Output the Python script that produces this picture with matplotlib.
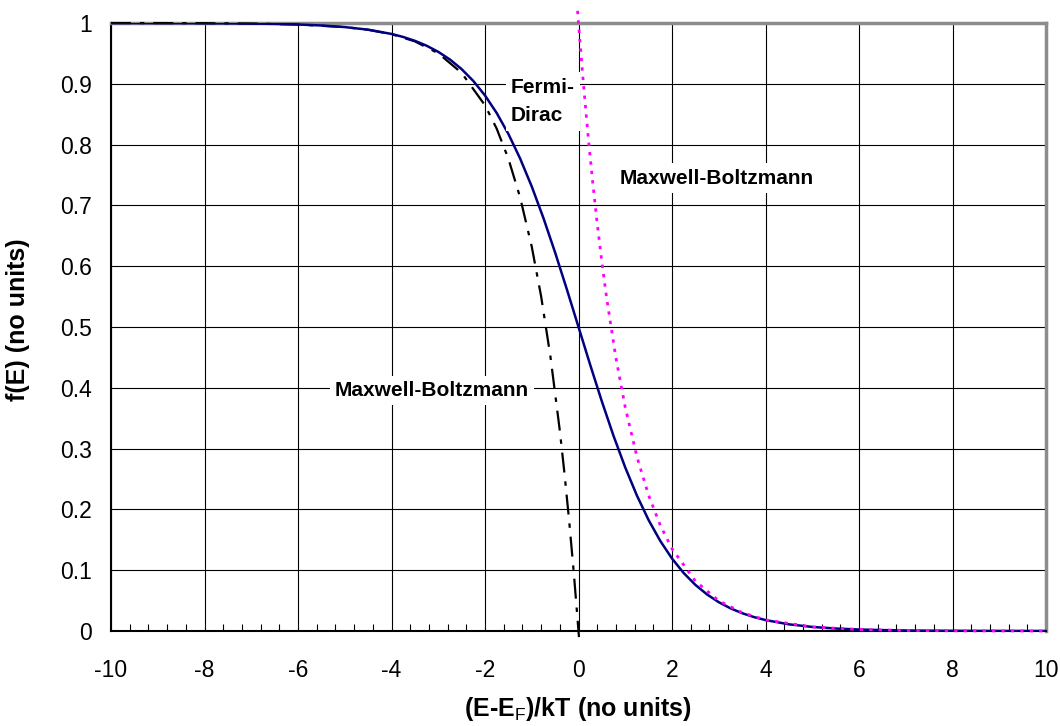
import matplotlib
matplotlib.use("Agg")
import matplotlib.pyplot as plt
from matplotlib.ticker import MultipleLocator

plt.rcParams['font.family'] = ['Liberation Sans', 'DejaVu Sans']
plt.rcParams['axes.unicode_minus'] = False
plt.rcParams['mathtext.fontset'] = 'custom'
plt.rcParams['mathtext.rm'] = 'Liberation Sans'
plt.rcParams['mathtext.bf'] = 'Liberation Sans:bold'
plt.rcParams['mathtext.it'] = 'Liberation Sans:italic'

# Fermi-Dirac
fd_x = [-10, -9.5, -9, -8.5, -8, -7.5, -7, -6.5, -6, -5.5, -5, -4.5, -4,
        -3.75, -3.5, -3.25, -3, -2.75, -2.5, -2.25, -2, -1.75, -1.5, -1.25,
        -1, -0.75, -0.5, -0.25, 0, 0.25, 0.5, 0.75, 1, 1.25, 1.5, 1.75, 2,
        2.25, 2.5, 2.75, 3, 3.25, 3.5, 3.75, 4, 4.5, 5, 5.5, 6, 6.5, 7, 7.5,
        8, 8.5, 9, 9.5, 10]
fd_y = [0.99995, 0.99993, 0.99988, 0.9998, 0.99966, 0.99945, 0.99909, 0.9985,
        0.99753, 0.99593, 0.99331, 0.98901, 0.98201, 0.97702, 0.97069, 0.96267,
        0.95257, 0.93991, 0.92414, 0.90465, 0.8808, 0.85195, 0.81757, 0.7773,
        0.73106, 0.67918, 0.62246, 0.56218, 0.5, 0.43782, 0.37754, 0.32082,
        0.26894, 0.2227, 0.18243, 0.14805, 0.1192, 0.09535, 0.07586, 0.06009,
        0.04743, 0.03733, 0.02931, 0.02298, 0.01799, 0.01099, 0.00669, 0.00407,
        0.00247, 0.0015, 0.00091, 0.00055, 0.00034, 0.0002, 0.00012, 0.00007,
        0.00005]

# Maxwell-Boltzmann (electrons, x > 0)
mbe_x = [-0.02, 0, 0.1, 0.2, 0.3, 0.4, 0.5, 0.6, 0.8, 1.0, 1.25, 1.5, 1.75, 2,
         2.5, 3, 3.5, 4, 5, 6, 7, 8, 9, 10]
mbe_y = [1.02, 1.0, 0.9048, 0.8187, 0.7408, 0.6703, 0.6065, 0.5488, 0.4493,
         0.3679, 0.2865, 0.2231, 0.1738, 0.1353, 0.0821, 0.0498, 0.0302, 0.0183,
         0.0067, 0.0025, 0.0009, 0.0003, 0.0001, 0.00005]

# Maxwell-Boltzmann (holes, x < 0)
mbh_x = [-10, -9, -8, -7, -6, -5, -4.5, -4, -3.5, -3, -2.5, -2, -1.75, -1.5,
         -1.25, -1, -0.8, -0.6, -0.4, -0.3, -0.2, -0.1, 0, 0.01]
mbh_y = [0.99995, 0.99988, 0.99966, 0.99909, 0.99752, 0.99326, 0.98889,
         0.98168, 0.9698, 0.95021, 0.91792, 0.86466, 0.82623, 0.77687, 0.7135,
         0.63212, 0.55067, 0.45119, 0.32968, 0.25918, 0.18127, 0.09516, 0.0,
         -0.01]

x_ticks = [-10, -8, -6, -4, -2, 0, 2, 4, 6, 8, 10]
y_ticks = [0, 0.1, 0.2, 0.3, 0.4, 0.5, 0.6, 0.7, 0.8, 0.9, 1]
y_labels = ['0', '0.1', '0.2', '0.3', '0.4', '0.5', '0.6', '0.7', '0.8', '0.9', '1']

fig = plt.figure(figsize=(10.6, 7.26), dpi=100)
ax = fig.add_axes([111/1060, 1 - 631/726, (1046 - 111)/1060, (631 - 23)/726])

ax.plot(mbh_x, mbh_y, color='black', lw=1.6, dashes=(9, 4, 2, 4), clip_on=False, zorder=3)
ax.plot(fd_x, fd_y, color='#000080', lw=1.8, zorder=4)
ax.plot(mbe_x, mbe_y, color='#FF00FF', lw=2.0, linestyle=(0, (1.2, 2.2)), clip_on=False, zorder=5)

ax.set_xlim(-10, 10)
ax.set_ylim(0, 1)
ax.set_xticks(x_ticks)
ax.set_yticks(y_ticks)
ax.set_yticklabels(y_labels)
ax.xaxis.set_minor_locator(MultipleLocator(0.4))
ax.grid(True, which='major', color='black', lw=0.8)
ax.tick_params(axis='both', which='major', labelsize=16.5, length=0)
ax.tick_params(axis='x', which='minor', direction='in', length=5, width=0.8, color='black')
ax.tick_params(axis='x', which='major', pad=20)
ax.tick_params(axis='y', which='major', pad=14)

for s in ['left', 'bottom']:
    ax.spines[s].set_color('black')
    ax.spines[s].set_linewidth(1.5)
for s in ['top', 'right']:
    ax.spines[s].set_color('#8c8c8c')
    ax.spines[s].set_linewidth(2.5)

fig.text(578/1060, 1 - 709/726, r'(E-E$_\mathrm{F}$)/kT (no units)', fontsize=18,
         fontweight='bold', ha='center', va='center')
fig.text(18/1060, 1 - 320/726, 'f(E) (no units)', fontsize=18, fontweight='bold',
         ha='center', va='center', rotation=90)

box = dict(facecolor='white', edgecolor='none', boxstyle='square,pad=0.25')
ax.text(-1.45, 0.871, 'Fermi-\nDirac', fontsize=15, fontweight='bold', ha='left', va='center',
        linespacing=1.65, zorder=6, bbox=box)
ax.text(0.89, 0.745, 'Maxwell-Boltzmann', fontsize=15, fontweight='bold', ha='left', va='center',
        zorder=6, bbox=box)
ax.text(-5.21, 0.396, 'Maxwell-Boltzmann', fontsize=15, fontweight='bold', ha='left', va='center',
        zorder=6, bbox=box)

fig.savefig('out.png', dpi=100)
